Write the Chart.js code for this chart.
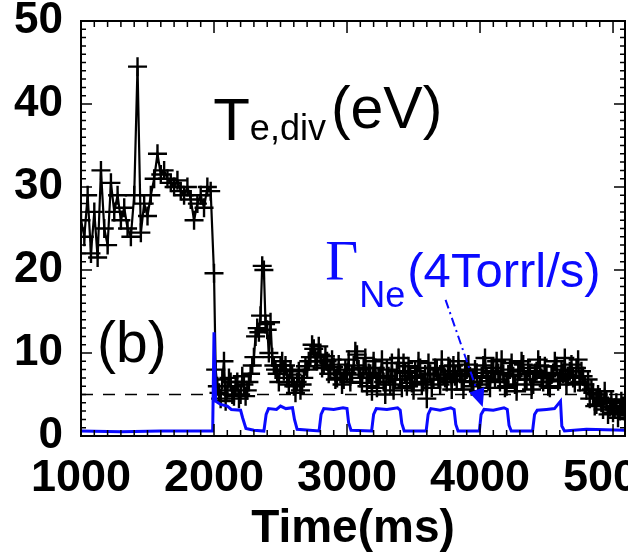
<!DOCTYPE html>
<html>
<head>
<meta charset="utf-8">
<script src="https://cdn.jsdelivr.net/npm/chart.js@4"></script>
<style>
  html, body { margin: 0; background: #fff; }
  #wrap { width: 628px; height: 557px; }
</style>
</head>
<body>
<div id="wrap"><canvas id="grafico" width="628" height="557"></canvas></div>
<script>
// Te,div (eV) before the neon puffing, one sample every 25 ms from 1000 ms
const teEarlyStart = 1000;
const teEarlyStep = 25;
const teDivEarly = [
    26, 24, 29, 22, 27, 21.5, 32, 25, 23, 30.5,
    27, 29, 26, 27.5, 25, 24, 29, 44.5, 24.5, 28,
    26.5, 29, 31, 34, 31.5, 32, 31, 30.5, 30, 30.8,
    29.5, 29, 30, 28.5, 26, 28, 29, 27.5, 30, 29.5
];

// Te,div (eV) from 2000 ms on, one sample every 12.5 ms
const teLateStart = 2000;
const teLateStep = 12.5;
const teDivLate = [
    19.6, 8, 6, 5.2, 4.5, 6.8, 9, 4.2, 5.5, 7,
    6.5, 5, 4.8, 6, 6.5, 4.5, 5, 7.2, 6.2, 4.8,
    5.5, 6.5, 7.5, 8.5, 9.5, 12, 13, 12.5, 14.5, 20.5,
    20, 13.5, 12.8, 10, 13.7, 9.5, 8.5, 8, 7.5, 6.5,
    8.5, 9, 7.8, 8.5, 7, 6.2, 8, 7.4, 6, 5.2,
    6.5, 7.8, 5.5, 6.2, 7, 8.4, 8, 9, 9.5, 11,
    10.5, 9.5, 9, 10.8, 9.8, 8.2, 8.5, 9.6, 9, 7.5,
    8, 9.2, 8.3, 6.8, 7, 8.6, 7.5, 6.2, 6.8, 8,
    7.6, 9.2, 6.5, 7.4, 8.5, 10.2, 9.8, 8, 7, 6.4,
    8.2, 9.4, 6, 7.6, 7.5, 5.4, 9, 8.2, 5.8, 7,
    7.2, 9.2, 6.5, 5, 8, 7.2, 6.2, 8.8, 5.5, 6.8,
    7.8, 9.4, 6.8, 5.8, 8.8, 7.6, 6, 8.4, 7.2, 6.4,
    5.5, 7.8, 7, 9, 8.2, 6.2, 6.5, 7.4, 4.5, 8.8,
    7.5, 5.8, 6.8, 8.2, 8, 6.8, 6.2, 9.2, 7.4, 7,
    6.5, 8.4, 7.8, 5.6, 8.5, 7.2, 6.8, 9, 7.5, 6.6,
    5.6, 7.8, 8, 8.6, 7.2, 6, 6.5, 8, 7.6, 5.4,
    6.2, 7.2, 8.5, 9.4, 7, 6.6, 5.8, 8.2, 7.8, 6.8,
    9, 7.6, 6.5, 9.2, 7.5, 5.8, 6, 7.4, 8, 8.8,
    7.2, 6.2, 5.4, 7.8, 7.8, 9, 8.6, 6.8, 6.8, 8.2,
    7.5, 5.6, 6.2, 7.6, 7.8, 9.2, 8.5, 7, 6.5, 8.4,
    7.2, 6, 5.8, 7.4, 7.6, 9, 8.4, 6.6, 6.8, 8,
    7.5, 9.4, 6.2, 7.2, 7.8, 8.6, 7, 6.4, 8.2, 9.2,
    6.5, 7.8, 7.2, 6.2, 5.5, 6.8, 4.5, 5.6, 5.2, 3.6,
    3.8, 5, 4.6, 4, 3.2, 5.4, 4.2, 2.6, 3.5, 4.4,
    2.8, 3.4, 4, 2.2, 3, 4.2, 3.6, 3, 2.5
];

// Gamma_Ne puffing waveform
const neTime = [1000, 1300, 1600, 1990, 2000, 2012, 2050, 2100, 2130, 2200, 2215, 2240, 2300, 2375,
    2392, 2410, 2470, 2500, 2540, 2590, 2605, 2625, 2790, 2805, 2825, 2900, 2970, 3000, 3012, 3030,
    3185, 3200, 3220, 3300, 3380, 3400, 3412, 3430, 3595, 3610, 3630, 3700, 3780, 3805, 3818, 3835,
    3995, 4008, 4030, 4100, 4180, 4205, 4218, 4235, 4395, 4410, 4430, 4500, 4560, 4605, 4615, 4635,
    4800, 5090];
const neFlow = [0.6, 0.5, 0.6, 0.6, 12.5, 4.2, 3.8, 3.6, 3.2, 3.1, 2.2, 0.9, 0.7, 0.6,
    2.6, 3.3, 3.2, 3.6, 3.3, 3.4, 2.0, 0.8, 0.6, 2.6, 3.3, 3.2, 3.4, 3.3, 1.6, 0.7,
    0.6, 2.6, 3.3, 3.2, 3.4, 3.1, 1.5, 0.6, 0.6, 2.6, 3.3, 3.1, 3.4, 3.2, 1.4, 0.6,
    0.6, 2.6, 3.2, 3.1, 3.4, 3.2, 1.3, 0.6, 0.6, 2.6, 3.1, 3.2, 3.3, 4.2, 1.2, 0.6,
    0.8, 0.7];

const nivelRef = 5;
const xMin = 1000, xMax = 5090;
const yMin = 0, yMax = 50;
const xTicks = [1000, 2000, 3000, 4000, 5000];

// anchors of the annotations, in data units
const teLabelAt = { x: 1994, y: 35.7 };
const neLabelAt = { x: 2837, y: 18.8 };
const panelAt = { x: 1120, y: 8.9 };
const flechaDesde = { x: 3741, y: 16.4 };
const flechaHasta = { x: 4020, y: 3.5 };

const SANS = '"Liberation Sans", Arial, sans-serif';
const SERIF = '"Liberation Serif", "Times New Roman", serif';
const AZUL = '#0a0aff';

const teData = teDivEarly.map((v, i) => ({ x: teEarlyStart + i * teEarlyStep, y: v }))
    .concat(teDivLate.map((v, i) => ({ x: teLateStart + i * teLateStep, y: v })));
const neData = neTime.map((t, i) => ({ x: t, y: neFlow[i] }));

const marco = {
    id: 'marco',
    afterDatasetsDraw(chart) {
        const { ctx, chartArea: a, scales: { x, y } } = chart;
        ctx.save();
        ctx.strokeStyle = '#000';
        ctx.lineWidth = 1.5;
        ctx.beginPath();
        for (let v = yMin; v <= yMax; v++) {
            const py = y.getPixelForValue(v);
            const len = v % 10 === 0 ? 11 : 5;
            ctx.moveTo(a.left, py); ctx.lineTo(a.left + len, py);
            ctx.moveTo(a.right, py); ctx.lineTo(a.right - len, py);
        }
        for (let t = xMin; t <= xMax; t += 100) {
            const px = x.getPixelForValue(t);
            const len = t % 1000 === 0 ? 12 : 6;
            ctx.moveTo(px, a.top); ctx.lineTo(px, a.top + len);
            ctx.moveTo(px, a.bottom); ctx.lineTo(px, a.bottom - len);
        }
        ctx.stroke();
        ctx.lineWidth = 2;
        ctx.strokeRect(a.left, a.top, a.right - a.left, a.bottom - a.top);
        ctx.restore();
    }
};

const rotulos = {
    id: 'rotulos',
    afterDraw(chart) {
        const { ctx, scales: { x, y } } = chart;
        ctx.save();
        ctx.textAlign = 'left';
        ctx.textBaseline = 'alphabetic';

        // T_e,div(eV)
        ctx.fillStyle = '#000';
        let px = x.getPixelForValue(teLabelAt.x);
        const py = y.getPixelForValue(teLabelAt.y);
        ctx.font = `60px ${SANS}`;
        ctx.fillText('T', px, py);
        px += ctx.measureText('T').width;
        ctx.font = `36px ${SANS}`;
        ctx.fillText('e,div', px, py);
        px += ctx.measureText('e,div').width + 5;
        ctx.font = `59px ${SANS}`;
        ctx.fillText('(eV)', px, py - 12);

        // (b)
        ctx.font = `57px ${SANS}`;
        ctx.fillText('(b)', x.getPixelForValue(panelAt.x), y.getPixelForValue(panelAt.y));

        // Gamma_Ne(4Torrl/s)
        ctx.fillStyle = AZUL;
        let gx = x.getPixelForValue(neLabelAt.x);
        const gy = y.getPixelForValue(neLabelAt.y);
        ctx.font = `57px ${SERIF}`;
        ctx.fillText('\u0393', gx, gy);
        gx += ctx.measureText('\u0393').width + 1;
        ctx.font = `36px ${SANS}`;
        ctx.fillText('Ne', gx, gy + 27);
        gx += ctx.measureText('Ne').width + 2;
        ctx.font = `49px ${SANS}`;
        ctx.fillText('(4Torrl/s)', gx, gy + 7);

        // flecha
        const x0 = x.getPixelForValue(flechaDesde.x), y0 = y.getPixelForValue(flechaDesde.y);
        const x1 = x.getPixelForValue(flechaHasta.x), y1 = y.getPixelForValue(flechaHasta.y);
        const ang = Math.atan2(y1 - y0, x1 - x0);
        const largo = 18, ancho = 8;
        const bx = x1 - largo * Math.cos(ang), by = y1 - largo * Math.sin(ang);
        ctx.strokeStyle = AZUL;
        ctx.lineWidth = 2;
        ctx.setLineDash([9, 4, 2, 4]);
        ctx.beginPath();
        ctx.moveTo(x0, y0);
        ctx.lineTo(bx, by);
        ctx.stroke();
        ctx.setLineDash([]);
        ctx.beginPath();
        ctx.moveTo(x1, y1);
        ctx.lineTo(bx + ancho * Math.sin(ang), by - ancho * Math.cos(ang));
        ctx.lineTo(bx - ancho * Math.sin(ang), by + ancho * Math.cos(ang));
        ctx.closePath();
        ctx.fill();
        ctx.restore();
    }
};

new Chart(document.getElementById('grafico'), {
    type: 'line',
    data: {
        datasets: [
            { data: neData, borderColor: AZUL, borderWidth: 3, pointRadius: 0, tension: 0 },
            { data: teData, borderColor: '#000', borderWidth: 2.2, pointStyle: 'cross', pointRadius: 9.5,
              pointBorderWidth: 2.4, pointBorderColor: '#000', tension: 0 },
            { data: [{ x: xMin, y: nivelRef }, { x: xMax, y: nivelRef }], borderColor: '#000',
              borderWidth: 1.5, borderDash: [12, 10], pointRadius: 0 }
        ]
    },
    options: {
        responsive: false,
        animation: false,
        layout: { autoPadding: false, padding: { top: 21, right: 3, left: 0, bottom: 0 } },
        plugins: { legend: { display: false }, tooltip: { enabled: false } },
        scales: {
            x: {
                type: 'linear', min: xMin, max: xMax,
                afterBuildTicks: s => { s.ticks = xTicks.map(v => ({ value: v })); },
                afterFit: s => { s.height = 121; s.paddingLeft = 0; s.paddingRight = 0; },
                grid: { display: false, drawTicks: false },
                border: { display: false },
                ticks: { autoSkip: false, maxRotation: 0, padding: 16, color: '#000',
                         font: { family: SANS, size: 45, weight: 'bold' }, callback: v => String(v) },
                title: { display: true, text: 'Time(ms)', color: '#000',
                         font: { family: SANS, size: 46, weight: 'bold' }, padding: { top: 0, bottom: 0 } }
            },
            y: {
                min: yMin, max: yMax,
                afterFit: s => { s.width = 81; s.paddingTop = 0; s.paddingBottom = 0; },
                grid: { display: false, drawTicks: false },
                border: { display: false },
                ticks: { stepSize: 10, padding: 18, color: '#000',
                         font: { family: SANS, size: 44, weight: 'bold' } }
            }
        }
    },
    plugins: [marco, rotulos]
});
</script>
</body>
</html>
